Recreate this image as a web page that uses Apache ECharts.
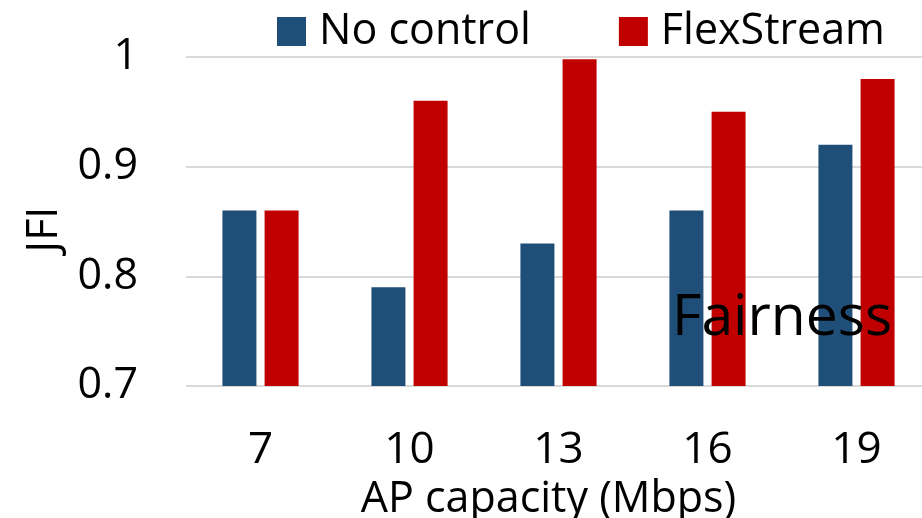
<!DOCTYPE html>
<html>
<head>
<meta charset="utf-8">
<script src="https://cdn.jsdelivr.net/npm/echarts@6/dist/echarts.min.js"></script>
<style>
  html, body { margin: 0; padding: 0; background: #fff; }
  #chart { width: 922px; height: 518px; }
</style>
</head>
<body>
<div id="chart"></div>
<script>
// AP capacity categories (Mbps)
const capacities = ['7', '10', '13', '16', '19'];
// Jain's fairness index per scheme
const noControl = [0.86, 0.79, 0.83, 0.86, 0.92];
const flexStream = [0.86, 0.96, 0.998, 0.95, 0.98];
// Value-axis ticks
const yTicks = [0.7, 0.8, 0.9, 1.0];

const FONT = '"Open Sans", "Noto Sans", sans-serif';

const chart = echarts.init(document.getElementById('chart'), null, { renderer: 'canvas' });

chart.setOption({
  animation: false,
  backgroundColor: '#ffffff',
  textStyle: { fontFamily: FONT, color: '#000' },
  legend: {
    left: 277,
    top: 10,
    itemWidth: 29,
    itemHeight: 29,
    itemGap: 88,
    padding: 0,
    icon: 'rect',
    textStyle: { fontFamily: FONT, fontSize: 43, color: '#000', padding: [0, 0, 0, 8] },
    data: ['No control', 'FlexStream']
  },
  grid: {
    left: 186, top: 57, width: 745, height: 329,
    containLabel: false,
    outerBoundsMode: 'none'
  },
  xAxis: {
    type: 'category',
    data: capacities,
    axisLine: { show: false },
    axisTick: { show: false },
    axisLabel: { fontFamily: FONT, fontSize: 44, color: '#000', margin: 42 },
    name: 'AP capacity (Mbps)',
    nameLocation: 'middle',
    nameGap: 92,
    nameTextStyle: { fontFamily: FONT, fontSize: 43, color: '#000', padding: [0, 20, 0, 0] }
  },
  yAxis: {
    type: 'value',
    min: yTicks[0],
    max: yTicks[yTicks.length - 1],
    interval: 0.1,
    axisLine: { show: false },
    axisTick: { show: false },
    splitLine: { show: true, lineStyle: { color: '#d9d9d9', width: 2 } },
    axisLabel: {
      fontFamily: FONT, fontSize: 43, color: '#000', margin: 48,
      formatter: v => (Math.abs(v - 1) < 1e-9 ? '1' : v.toFixed(1))
    },
    name: 'JFI',
    nameLocation: 'middle',
    nameGap: 119,
    nameRotate: 90,
    nameTextStyle: { fontFamily: FONT, fontSize: 43, color: '#000', padding: [0, 16, 0, 0] }
  },
  series: [
    {
      name: 'No control',
      type: 'bar',
      data: noControl,
      barWidth: 34,
      barGap: '24%',
      itemStyle: { color: '#1f4e79' }
    },
    {
      name: 'FlexStream',
      type: 'bar',
      data: flexStream,
      barWidth: 34,
      barGap: '24%',
      itemStyle: { color: '#c00000' }
    }
  ],
  graphic: [
    {
      type: 'text',
      left: 672,
      top: 290,
      z: 100,
      style: { text: 'Fairness', fontFamily: FONT, fontSize: 57, fill: '#000' }
    }
  ]
});
</script>
</body>
</html>
